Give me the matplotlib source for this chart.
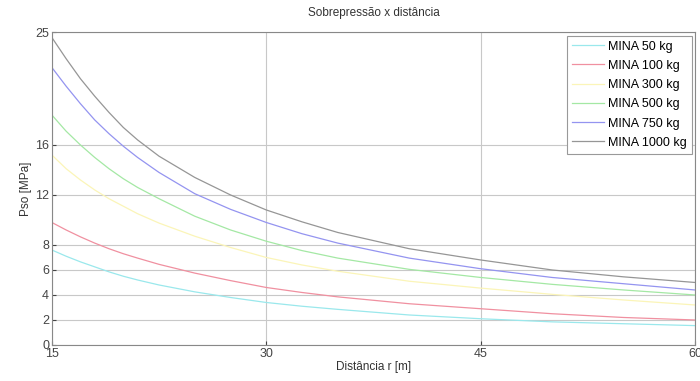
import numpy as np
import matplotlib.pyplot as plt

plt.rcParams['font.family'] = ['Liberation Sans', 'DejaVu Sans']

r = [15, 16, 17, 18, 19, 20, 21, 22.5, 25, 27.5, 30, 32.5, 35, 40, 45, 50, 55, 60]

mina_50 = [7.6, 7.1, 6.65, 6.25, 5.85, 5.5, 5.2, 4.8, 4.25, 3.8, 3.4, 3.1, 2.85,
           2.4, 2.1, 1.85, 1.7, 1.55]
mina_100 = [9.8, 9.2, 8.65, 8.15, 7.7, 7.3, 6.95, 6.45, 5.75, 5.15, 4.6, 4.2, 3.85,
            3.3, 2.9, 2.5, 2.2, 2.0]
mina_300 = [15.2, 14.1, 13.2, 12.4, 11.7, 11.1, 10.5, 9.75, 8.7, 7.8, 7.0, 6.4, 5.9,
            5.1, 4.55, 4.05, 3.6, 3.2]
mina_500 = [18.4, 17.1, 16.0, 15.0, 14.1, 13.3, 12.6, 11.7, 10.3, 9.2, 8.3, 7.55, 6.95,
            6.05, 5.4, 4.85, 4.4, 4.0]
mina_750 = [22.2, 20.7, 19.3, 18.0, 16.9, 15.9, 15.0, 13.8, 12.1, 10.85, 9.8, 8.9, 8.15,
            6.95, 6.1, 5.4, 4.9, 4.4]
mina_1000 = [24.6, 22.9, 21.3, 19.9, 18.6, 17.4, 16.4, 15.1, 13.4, 12.0, 10.8, 9.85, 9.0,
             7.7, 6.8, 6.0, 5.45, 5.0]

labels = ['MINA 50 kg', 'MINA 100 kg', 'MINA 300 kg', 'MINA 500 kg',
          'MINA 750 kg', 'MINA 1000 kg']
colors = ['#9ae8ec', '#f090a0', '#fbf5b8', '#a4e8a4', '#9494f0', '#969696']
yticks = [0, 2, 4, 6, 8, 12, 16, 25]
xticks = [15, 30, 45, 60]

fig = plt.figure(figsize=(7, 3.81), dpi=100)
ax = fig.add_axes([0.074, 0.0945, 0.919, 0.8205])

series = [mina_50, mina_100, mina_300, mina_500, mina_750, mina_1000]
for vals, lab, col in zip(series, labels, colors):
    ax.plot(r, vals, color=col, lw=0.9, label=lab)

ax.set_xlim(15, 60)
ax.set_ylim(0, 25)
ax.set_xticks(xticks)
ax.set_yticks(yticks)
ax.grid(True, color='#c8c8c8', lw=0.8)
ax.set_axisbelow(True)
ax.tick_params(direction='in', length=3, labelsize=9, colors='#444444', pad=2)
for s in ax.spines.values():
    s.set_color('#888888')
    s.set_linewidth(0.8)

ax.set_title('Sobrepressão x distância', fontsize=8.5, color='#333333', pad=12)
ax.set_xlabel('Distância r [m]', fontsize=8.5, color='#333333', labelpad=1)
ax.set_ylabel('Pso [MPa]', fontsize=8.5, color='#333333', labelpad=2)

leg = ax.legend(loc='upper right', fontsize=9, handlelength=2.6,
                borderaxespad=0.25, labelspacing=0.58, fancybox=False,
                framealpha=1, edgecolor='#999999', handletextpad=0.3)
leg.get_frame().set_linewidth(0.8)

fig.savefig('out.png', dpi=100)
